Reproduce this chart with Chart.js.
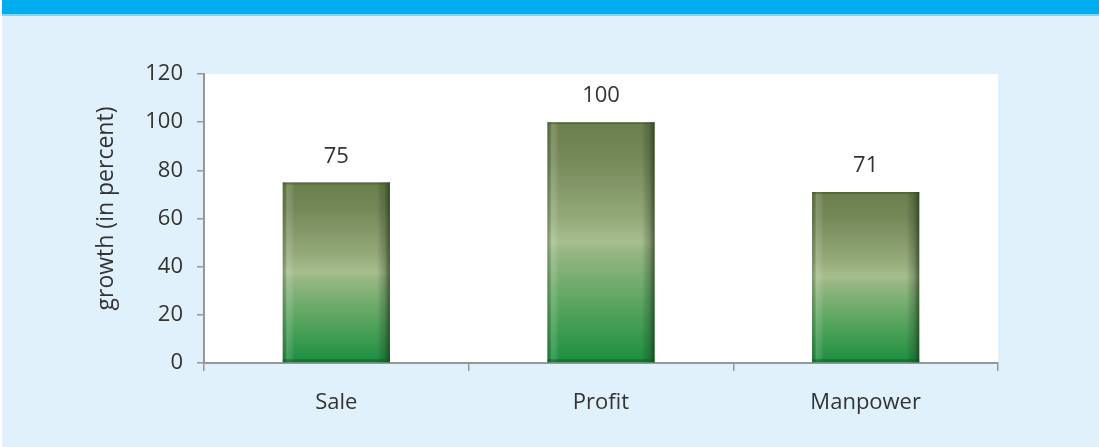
<!DOCTYPE html>
<html>
<head>
<meta charset="utf-8">
<script src="https://cdn.jsdelivr.net/npm/chart.js@4/dist/chart.umd.min.js"></script>
<style>
  html, body { margin: 0; padding: 0; background: #ffffff; }
  #wrap { width: 1099px; height: 447px; position: relative; }
  canvas { display: block; }
</style>
</head>
<body>
<div id="wrap"><canvas id="growth" width="1099" height="447"></canvas></div>
<script>
// Growth figures per area
const categories = ['Sale', 'Profit', 'Manpower'];
const growthValues = [75, 100, 71];
const yTicks = [0, 20, 40, 60, 80, 100, 120];
const yTitle = 'growth (in percent)';

const FONT = '"Open Sans", "Liberation Sans", sans-serif';
const TEXT = '#333333';
const AXIS = '#979797';

// Page backdrop: pale blue panel under a blue header band, white plot area
const backdrop = {
  id: 'backdrop',
  beforeDraw(chart) {
    const { ctx, width, height, chartArea } = chart;
    ctx.save();
    ctx.fillStyle = '#ffffff';
    ctx.fillRect(0, 0, width, height);
    ctx.fillStyle = '#e0f1fc';
    ctx.fillRect(2, 16, width - 2, height - 16);
    ctx.fillStyle = '#00aeef';
    ctx.fillRect(2, 0, width - 2, 14);
    ctx.fillStyle = '#7fd5f6';
    ctx.fillRect(2, 14, width - 2, 2);
    ctx.fillStyle = '#ffffff';
    ctx.fillRect(chartArea.left, chartArea.top, chartArea.right - chartArea.left, chartArea.bottom - chartArea.top);
    ctx.restore();
  },
  afterDraw(chart) {
    // vertical axis title, set a little above the plot's middle
    const { ctx, chartArea } = chart;
    ctx.save();
    ctx.translate(106, (chartArea.top + chartArea.bottom) / 2 - 10);
    ctx.rotate(-Math.PI / 2);
    ctx.fillStyle = TEXT;
    ctx.font = '23px ' + FONT;
    ctx.textAlign = 'center';
    ctx.textBaseline = 'middle';
    ctx.fillText(yTitle, 0, 0);
    ctx.restore();
  }
};

// Side shading on each bar and the value printed above it
const barDecor = {
  id: 'barDecor',
  afterDatasetsDraw(chart) {
    const { ctx } = chart;
    const meta = chart.getDatasetMeta(0);
    ctx.save();
    meta.data.forEach((bar, i) => {
      const { x, y, base, width } = bar.getProps(['x', 'y', 'base', 'width'], true);
      const left = x - width / 2;
      const h = base - y;
      const g = ctx.createLinearGradient(left, 0, left + width, 0);
      g.addColorStop(0, 'rgba(40,60,30,0.35)');
      g.addColorStop(0.025, 'rgba(40,60,30,0.15)');
      g.addColorStop(0.04, 'rgba(255,255,255,0.16)');
      g.addColorStop(0.08, 'rgba(255,255,255,0.10)');
      g.addColorStop(0.11, 'rgba(255,255,255,0)');
      g.addColorStop(0.88, 'rgba(0,0,0,0)');
      g.addColorStop(0.95, 'rgba(20,40,20,0.25)');
      g.addColorStop(1, 'rgba(20,40,15,0.65)');
      ctx.fillStyle = g;
      ctx.fillRect(left, y, width, h);
      // thin rim at top and bottom
      ctx.fillStyle = 'rgba(60,80,40,0.45)';
      ctx.fillRect(left, y, width, 2);
      ctx.fillStyle = 'rgba(10,90,40,0.5)';
      ctx.fillRect(left, base - 3, width, 3);

      ctx.fillStyle = TEXT;
      ctx.font = '22px ' + FONT;
      ctx.textAlign = 'center';
      ctx.textBaseline = 'middle';
      ctx.fillText(String(growthValues[i]), x, y - 26);
    });
    ctx.restore();
  }
};

function barGradient(context) {
  const chart = context.chart;
  if (!chart.chartArea) return '#6f8a55';
  const yScale = chart.scales.y;
  const top = yScale.getPixelForValue(context.raw);
  const base = yScale.getPixelForValue(0);
  const g = chart.ctx.createLinearGradient(0, top, 0, base);
  g.addColorStop(0, '#6b7e4c');
  g.addColorStop(0.15, '#748858');
  g.addColorStop(0.4, '#94aa79');
  g.addColorStop(0.5, '#a7be8e');
  g.addColorStop(0.53, '#98b783');
  g.addColorStop(0.7, '#68aa68');
  g.addColorStop(0.88, '#399a4e');
  g.addColorStop(1, '#1b8d40');
  return g;
}

new Chart(document.getElementById('growth'), {
  type: 'bar',
  data: {
    labels: categories,
    datasets: [{
      data: growthValues,
      backgroundColor: barGradient,
      borderWidth: 0,
      barPercentage: 0.405,
      categoryPercentage: 1.0
    }]
  },
  options: {
    responsive: false,
    animation: false,
    events: [],
    layout: { padding: { left: 0, top: 74, right: 101, bottom: 24 } },
    plugins: { legend: { display: false }, tooltip: { enabled: false } },
    scales: {
      x: {
        afterFit(scale) { scale.height = 60; },
        border: { display: true, color: AXIS, width: 2 },
        grid: { display: true, offset: true, drawOnChartArea: false, drawTicks: true, tickLength: 8, color: AXIS, lineWidth: 1.5 },
        ticks: { color: TEXT, font: { family: FONT, size: 22 }, padding: 19 }
      },
      y: {
        min: 0,
        max: 120,
        afterFit(scale) { scale.width = 204; },
        afterBuildTicks(scale) { scale.ticks = yTicks.map(v => ({ value: v })); },
        border: { display: true, color: AXIS, width: 2 },
        grid: { display: true, drawOnChartArea: false, drawTicks: true, tickLength: 7, color: AXIS, lineWidth: 1.5 },
        ticks: { color: TEXT, font: { family: FONT, size: 22 }, padding: 14 },
        title: { display: false }
      }
    }
  },
  plugins: [backdrop, barDecor]
});
</script>
</body>
</html>
